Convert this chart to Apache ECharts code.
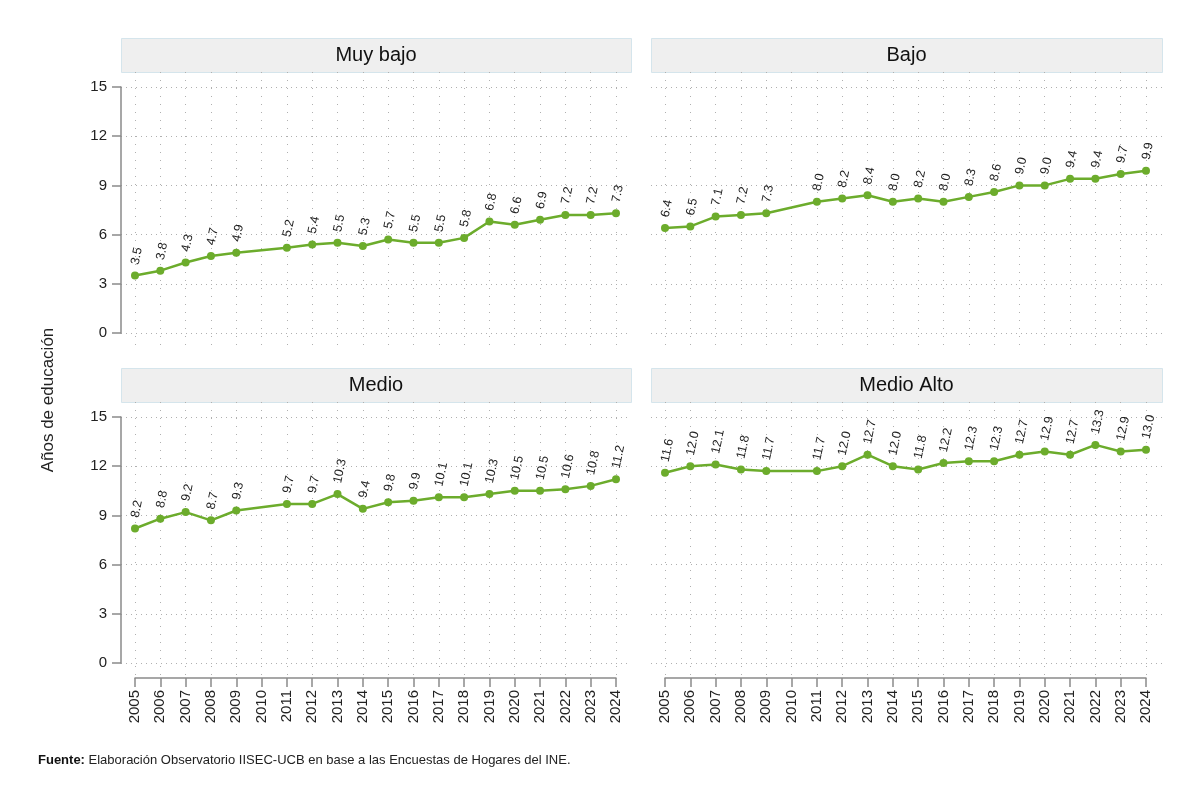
<!DOCTYPE html>
<html>
<head>
<meta charset="utf-8">
<script src="https://cdn.jsdelivr.net/npm/echarts@6/dist/echarts.min.js"></script>
<style>
  html, body { margin: 0; padding: 0; background: #fff; }
  #chart-container { width: 1200px; height: 801px; }
</style>
</head>
<body>
<div id="chart-container"></div>
<script>
var years = [2005, 2006, 2007, 2008, 2009, 2010, 2011, 2012, 2013, 2014,
  2015, 2016, 2017, 2018, 2019, 2020, 2021, 2022, 2023, 2024];

// 2010 has no survey value (null)
var muyBajo = [3.5, 3.8, 4.3, 4.7, 4.9, null, 5.2, 5.4, 5.5, 5.3,
  5.7, 5.5, 5.5, 5.8, 6.8, 6.6, 6.9, 7.2, 7.2, 7.3];
var bajo = [6.4, 6.5, 7.1, 7.2, 7.3, null, 8.0, 8.2, 8.4, 8.0,
  8.2, 8.0, 8.3, 8.6, 9.0, 9.0, 9.4, 9.4, 9.7, 9.9];
var medio = [8.2, 8.8, 9.2, 8.7, 9.3, null, 9.7, 9.7, 10.3, 9.4,
  9.8, 9.9, 10.1, 10.1, 10.3, 10.5, 10.5, 10.6, 10.8, 11.2];
var medioAlto = [11.6, 12.0, 12.1, 11.8, 11.7, null, 11.7, 12.0, 12.7, 12.0,
  11.8, 12.2, 12.3, 12.3, 12.7, 12.9, 12.7, 13.3, 12.9, 13.0];

var panelNames = ["Muy bajo", "Bajo", "Medio", "Medio Alto"];
var panelData = [muyBajo, bajo, medio, medioAlto];
var yTicks = [0, 3, 6, 9, 12, 15];

var dom = document.getElementById("chart-container");
var myChart = echarts.init(dom, null, { renderer: "canvas" });

var FONT = "Liberation Sans, Arial, sans-serif";
var GREEN = "#6cac2c";

// panel boxes: left, right, top of strip
var panels = [
  { l: 121, r: 631, t: 38 },
  { l: 651, r: 1162, t: 38 },
  { l: 121, r: 631, t: 368 },
  { l: 651, r: 1162, t: 368 }
];

var grids = [], xAxes = [], yAxes = [], series = [], graphics = [];

// pixels per unit: 246 px for 0..15
var pxPerUnit = 246 / 15;

panels.forEach(function (p, i) {
  var isBottom = i >= 2;
  var isLeft = i % 2 === 0;

  // grid A: data + vertical grid lines (spans strip bottom to below 0)
  grids.push({ left: p.l + 14, top: p.t + 34, width: 481, height: 273 });
  xAxes.push({
    type: "value", gridIndex: 2 * i, min: 2005, max: 2024, interval: 1,
    axisLine: { show: isBottom, onZero: false, lineStyle: { color: "#8a8a8a", width: 1.5 } },
    offset: 3,
    axisTick: { show: isBottom, length: 9, inside: false, lineStyle: { color: "#8a8a8a", width: 1.5 } },
    axisLabel: {
      show: isBottom, rotate: 90, margin: 12, fontSize: 15, color: "#222",
      fontFamily: FONT, formatter: function (v) { return String(v); }
    },
    splitLine: { show: true, lineStyle: { color: "#b0b0b0", type: [1, 7], width: 1 } }
  });
  yAxes.push({
    type: "value", gridIndex: 2 * i, show: false,
    min: -12 / pxPerUnit, max: 15 + 15 / pxPerUnit,
    splitLine: { show: false }
  });

  // grid B: y axis 0..15 and horizontal grid lines across full panel width
  grids.push({ left: p.l, top: p.t + 49, width: p.r - p.l, height: 246 });
  xAxes.push({ type: "value", gridIndex: 2 * i + 1, show: false, min: 0, max: 1, splitLine: { show: false } });
  yAxes.push({
    type: "value", gridIndex: 2 * i + 1, min: yTicks[0], max: yTicks[yTicks.length - 1], interval: 3,
    axisLine: { show: isLeft, lineStyle: { color: "#8a8a8a", width: 1.5 } },
    axisTick: { show: isLeft, length: 9, lineStyle: { color: "#8a8a8a", width: 1.5 } },
    axisLabel: { show: isLeft, margin: 14, fontSize: 15, color: "#222", fontFamily: FONT },
    splitLine: { show: true, lineStyle: { color: "#b0b0b0", type: [1, 4], width: 1 } }
  });

  var pts = [];
  years.forEach(function (y, k) {
    if (panelData[i][k] != null) pts.push([y, panelData[i][k]]);
  });

  series.push({
    type: "line", name: panelNames[i],
    xAxisIndex: 2 * i, yAxisIndex: 2 * i,
    data: pts,
    symbol: "circle", symbolSize: 8,
    lineStyle: { color: GREEN, width: 2.5 },
    itemStyle: { color: GREEN },
    label: {
      show: true, position: "top", distance: 7, rotate: 78,
      align: "left", verticalAlign: "middle",
      fontSize: 12.5, color: "#222", fontFamily: FONT,
      formatter: function (prm) { return prm.value[1].toFixed(1); }
    },
    animation: false
  });

  // header strip
  graphics.push({
    type: "rect",
    shape: { x: p.l + 0.5, y: p.t + 0.5, width: p.r - p.l, height: 34 },
    style: { fill: "#efefef", stroke: "#d5e5ec", lineWidth: 1 }
  });
  graphics.push({
    type: "text",
    x: (p.l + p.r) / 2, y: p.t + 17,
    style: {
      text: panelNames[i], fill: "#111", font: "20px " + FONT,
      textAlign: "center", textVerticalAlign: "middle"
    }
  });
});

graphics.push({
  type: "text", x: 48, y: 400, rotation: Math.PI / 2,
  style: {
    text: "Años de educación", fill: "#222", font: "17px " + FONT,
    textAlign: "center", textVerticalAlign: "middle"
  }
});
graphics.push({
  type: "text", x: 38, y: 760,
  style: {
    text: "{b|Fuente:} Elaboración Observatorio IISEC-UCB en base a las Encuestas de Hogares del INE.",
    rich: {
      b: { fontWeight: "bold", fontSize: 13, fontFamily: FONT, fill: "#111" }
    },
    fill: "#222", font: "13px " + FONT, textVerticalAlign: "middle"
  }
});

var option = {
  backgroundColor: "#fff",
  animation: false,
  grid: grids,
  xAxis: xAxes,
  yAxis: yAxes,
  series: series,
  graphic: { elements: graphics }
};

myChart.setOption(option);
window.addEventListener("resize", myChart.resize);
</script>
</body>
</html>
